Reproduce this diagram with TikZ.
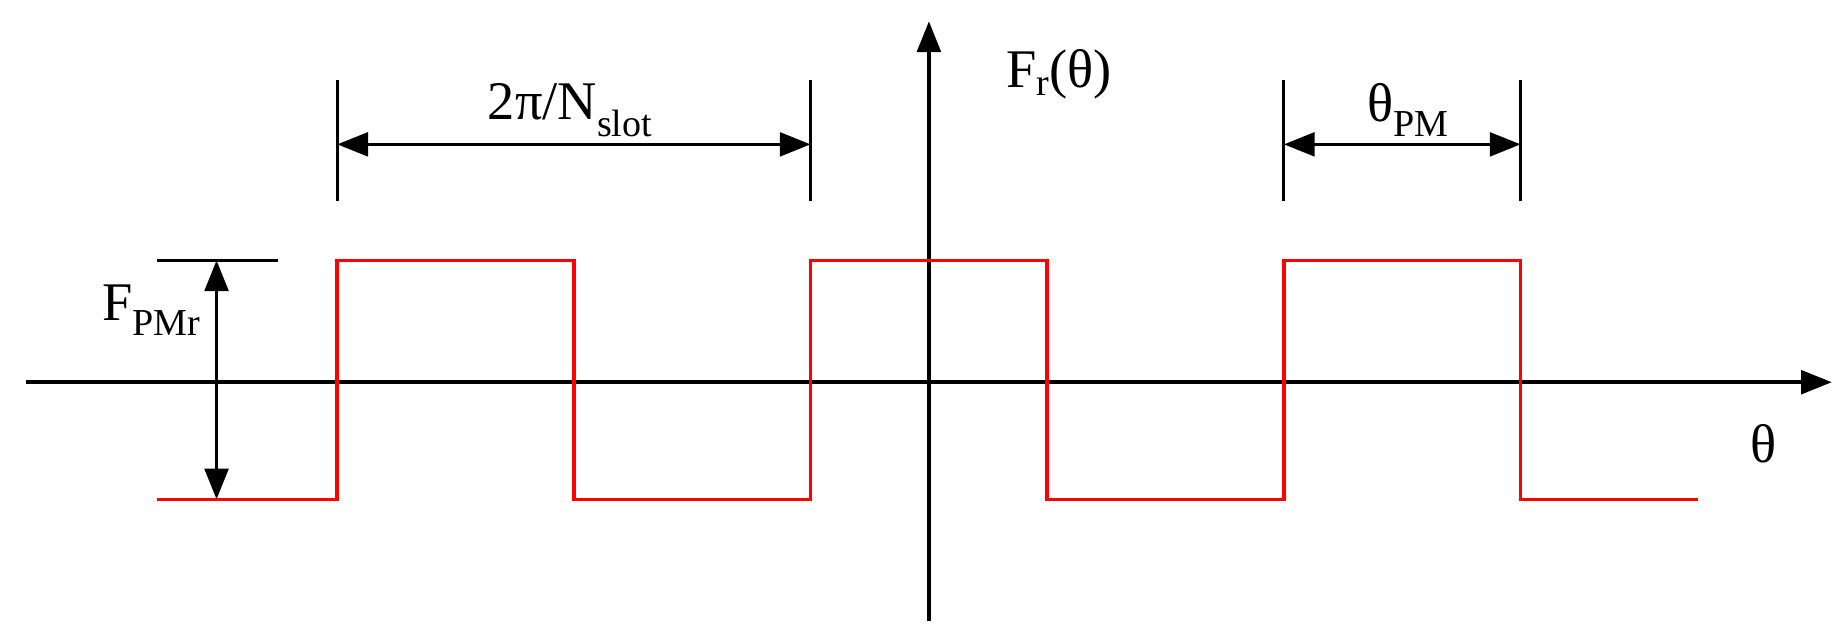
\documentclass[tikz,border=0pt]{standalone}
\usepackage{fontspec}
\setmainfont{Liberation Serif}
\usetikzlibrary{arrows.meta}
\begin{document}
\begin{tikzpicture}[x=1pt,y=-1pt,
  ax/.style={line width=3pt,-{Triangle[length=26pt,width=20pt]}},
  dim/.style={line width=3pt,{Triangle[length=26pt,width=20pt]}-{Triangle[length=26pt,width=20pt]}},
  tick/.style={line width=2.5pt},
  sig/.style={red,line width=3pt},
  lab/.style={font=\fontsize{46}{50}\selectfont,inner sep=0pt}]
\useasboundingbox (0,0) rectangle (1560,531.5);
\coordinate (xs) at (22,323); \coordinate (xe) at (1548,323);
\coordinate (ys) at (785,525); \coordinate (ye) at (785,18);
\draw[ax] (xs) -- (xe);
\draw[ax] (ys) -- (ye);
\draw[sig] (133,422) -- (285,422) -- (285,220) -- (485,220) -- (485,422) -- (685,422) -- (685,220) -- (885,220) -- (885,422) -- (1085,422) -- (1085,220) -- (1285,220) -- (1285,422) -- (1435,422);
% dimension left
\coordinate (a1) at (285,68); \coordinate (a2) at (285,170);
\coordinate (b1) at (685,68); \coordinate (b2) at (685,170);
\draw[tick] (a1) -- (a2); \draw[tick] (b1) -- (b2);
\coordinate (da) at (285,122); \coordinate (db) at (685,122);
\draw[dim] (da) -- (db);
\node[lab] (l1) at (482,93) {2π/N\textsubscript{slot}};
% dimension right
\coordinate (c1) at (1085,68); \coordinate (c2) at (1085,170);
\coordinate (d1) at (1285,68); \coordinate (d2) at (1285,170);
\draw[tick] (c1) -- (c2); \draw[tick] (d1) -- (d2);
\coordinate (dc) at (1085,122); \coordinate (dd) at (1285,122);
\draw[dim] (dc) -- (dd);
\node[lab] (l2) at (1190,93) {θ\textsubscript{PM}};
% amplitude
\coordinate (h1) at (133,220); \coordinate (h2) at (235,220);
\draw[tick] (h1) -- (h2);
\coordinate (va) at (183,220); \coordinate (vb) at (183,422);
\draw[dim] (va) -- (vb);
\node[lab] (l3) at (128,262) {F\textsubscript{PMr}};
\node[lab] (l4) at (895,63) {F\textsubscript{r}(θ)};
\node[lab] (l5) at (1490,375) {θ};
\end{tikzpicture}
\end{document}
